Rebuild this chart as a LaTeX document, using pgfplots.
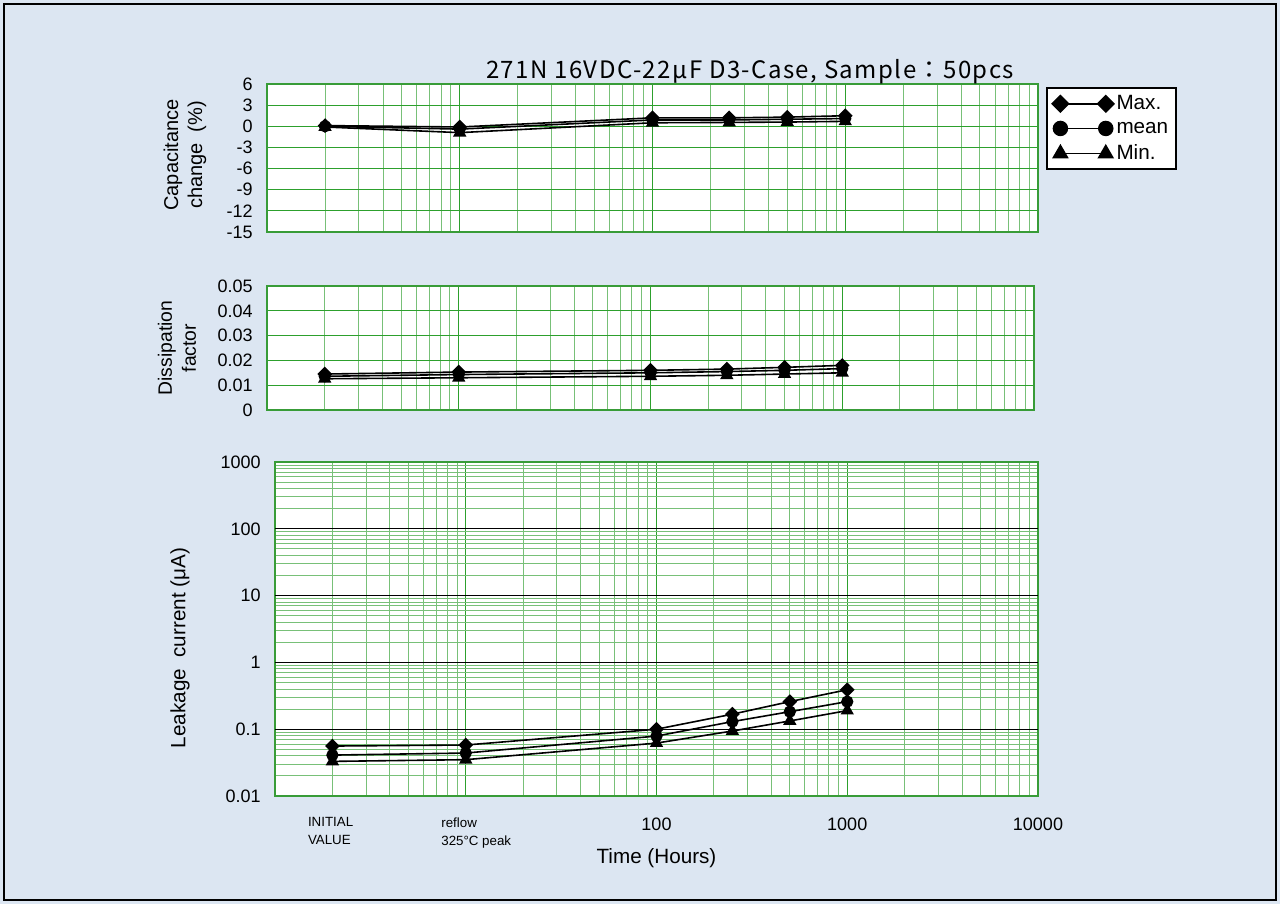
\documentclass[border=0pt]{standalone}
\usepackage{pgfplots}
\pgfplotsset{compat=1.18}
\usepackage{fontspec}
\setmainfont{Liberation Sans}
\newfontfamily\cjk[LetterSpace=6]{Noto Sans CJK JP}

\definecolor{bgblue}{RGB}{220,230,242}
\definecolor{framegreen}{RGB}{56,156,56}
\definecolor{gridmaj}{RGB}{45,160,45}
\definecolor{gridmin}{RGB}{120,192,120}

\pgfplotsset{
  smax/.style={mark=square*, mark size=3.3pt, mark options={rotate=45, fill=black, solid}},
  smean/.style={mark=*, mark size=4pt, mark options={fill=black, solid}},
  smin/.style={mark=triangle*, mark size=4.6pt, mark options={fill=black, solid}},
}

\begin{document}
\begin{tikzpicture}
\fill[bgblue] (0,0) rectangle (960pt,-678pt);
\draw[black, line width=1.5pt] (3pt,-3pt) rectangle (957pt,-675pt);

% capacitance change
\begin{axis}[
  xmode=log, xmin=1, xmax=10000,
  scale only axis, anchor=south west,
  at={(200.25pt,-174pt)}, width=578.25pt, height=111pt,
  axis background/.style={fill=white},
  axis line style={framegreen, line width=2.2pt},
  grid=both,
  major grid style={draw=gridmaj, line width=0.75pt},
  minor grid style={draw=gridmin, line width=0.75pt},
  major tick length=0pt, minor tick length=0pt,
  xtick={1,10,100,1000,10000},
  minor xtick={2,3,4,5,6,7,8,9,20,30,40,50,60,70,80,90,200,300,400,500,600,700,800,900,2000,3000,4000,5000,6000,7000,8000,9000},
  xticklabels={},
  tick label style={font=\fontsize{13.5}{16}\selectfont},
  yticklabel style={inner sep=0pt, xshift=-10.5pt},
  ymin=-15, ymax=6,
  ytick={-15,-12,-9,-6,-3,0,3,6},
  yticklabels={-15,-12,-9,-6,-3,0,3,6},
  ylabel={Capacitance\\change\ \ (\%)},
  ylabel style={at={(axis description cs:-0.1064,0.52)}, anchor=center,
    align=center, font=\fontsize{15}{18}\selectfont},
  title={\cjk 271N 16VDC-22μF D3-Case, Sample：50pcs},
  title style={at={(axis description cs:0.6265,1.027)}, anchor=center,
    font=\fontsize{18}{20}\selectfont},
  legend style={at={(1,1)}, anchor=north west, xshift=6pt, yshift=-2.5pt,
    draw=black, line width=1.5pt, fill=white,
    font=\fontsize{15.5}{17}\selectfont, row sep=3.5pt,
    inner xsep=4pt, inner ysep=3.5pt},
  legend cell align=left,
  legend image code/.code={%
    \draw[#1, every mark/.append style={scale=1.3}] plot coordinates {(0pt,0pt) (34pt,0pt)};},
]
\addplot[black, line width=1.2pt, smax] coordinates {(2,0.1) (10,-0.1) (100,1.2) (250,1.2) (500,1.3) (1000,1.5)};
\addplot[black, line width=1.2pt, smean] coordinates {(2,0) (10,-0.4) (100,0.9) (250,0.9) (500,1.0) (1000,1.1)};
\addplot[black, line width=1.2pt, smin] coordinates {(2,-0.1) (10,-0.9) (100,0.5) (250,0.55) (500,0.6) (1000,0.7)};
\legend{Max.,mean,Min.}
\end{axis}

% dissipation factor
\begin{axis}[
  xmode=log, xmin=1, xmax=10000,
  scale only axis, anchor=south west,
  at={(200.25pt,-307.5pt)}, width=575.25pt, height=93pt,
  axis background/.style={fill=white},
  axis line style={framegreen, line width=2.2pt},
  grid=both,
  major grid style={draw=gridmaj, line width=0.75pt},
  minor grid style={draw=gridmin, line width=0.75pt},
  major tick length=0pt, minor tick length=0pt,
  xtick={1,10,100,1000,10000},
  minor xtick={2,3,4,5,6,7,8,9,20,30,40,50,60,70,80,90,200,300,400,500,600,700,800,900,2000,3000,4000,5000,6000,7000,8000,9000},
  xticklabels={},
  tick label style={font=\fontsize{13.5}{16}\selectfont},
  yticklabel style={inner sep=0pt, xshift=-10.5pt},
  ymin=0, ymax=0.05,
  scaled y ticks=false,
  ytick={0,0.01,0.02,0.03,0.04,0.05},
  yticklabels={0,0.01,0.02,0.03,0.04,0.05},
  ylabel={Dissipation\\factor},
  ylabel style={at={(axis description cs:-0.1173,0.5)}, anchor=center,
    align=center, font=\fontsize{14.5}{18}\selectfont},
]
\addplot[black, line width=1.2pt, smax] coordinates {(2,0.0145) (10,0.0153) (100,0.0160) (250,0.0165) (500,0.0172) (1000,0.0180)};
\addplot[black, line width=1.2pt, smean] coordinates {(2,0.0136) (10,0.0143) (100,0.0150) (250,0.0155) (500,0.0160) (1000,0.0167)};
\addplot[black, line width=1.2pt, smin] coordinates {(2,0.0126) (10,0.0130) (100,0.0136) (250,0.0140) (500,0.0145) (1000,0.0150)};
\end{axis}

% leakage current
\begin{axis}[
  xmode=log, xmin=1, xmax=10000,
  ymode=log, ymin=0.01, ymax=1000,
  scale only axis, anchor=south west,
  at={(206.25pt,-597pt)}, width=572.25pt, height=250.5pt,
  axis background/.style={fill=white},
  axis line style={framegreen, line width=2.2pt},
  grid=both,
  major grid style={draw=gridmaj, line width=0.75pt},
  minor grid style={draw=gridmin, line width=0.75pt},
  major tick length=0pt, minor tick length=0pt,
  xtick={1,10,100,1000,10000},
  minor xtick={2,3,4,5,6,7,8,9,20,30,40,50,60,70,80,90,200,300,400,500,600,700,800,900,2000,3000,4000,5000,6000,7000,8000,9000},
  xticklabels={{},{},100,1000,10000},
  tick label style={font=\fontsize{13.5}{16}\selectfont},
  yticklabel style={inner sep=0pt, xshift=-10.5pt},
  xticklabel style={anchor=north, inner sep=0pt, yshift=-16pt},
  ytick={0.01,0.1,1,10,100,1000},
  yticklabels={0.01,0.1,1,10,100,1000},
  minor ytick={0.02,0.03,0.04,0.05,0.06,0.07,0.08,0.09,0.2,0.3,0.4,0.5,0.6,0.7,0.8,0.9,2,3,4,5,6,7,8,9,20,30,40,50,60,70,80,90,200,300,400,500,600,700,800,900},
  extra y ticks={0.1,1,10,100},
  extra y tick labels={{},{},{},{}},
  extra y tick style={major grid style={draw=black, line width=0.8pt}},
  extra x ticks={2,10},
  extra x tick labels={{INITIAL\\VALUE},{reflow\\325°C peak}},
  extra x tick style={grid=none, xticklabel style={anchor=north west, align=left,
    xshift=-18.5pt, inner sep=0pt, font=\fontsize{10}{13.5}\selectfont}},
  ylabel={Leakage\ \ current (μA)},
  ylabel style={at={(axis description cs:-0.1245,0.443)}, anchor=center,
    font=\fontsize{15.5}{18}\selectfont},
  xlabel={Time (Hours)},
  xlabel style={at={(axis description cs:0.5,-0.1856)}, anchor=center,
    font=\fontsize{15.5}{18}\selectfont},
]
\addplot[black, line width=1.2pt, smax] coordinates {(2,0.056) (10,0.058) (100,0.100) (250,0.168) (500,0.259) (1000,0.39)};
\addplot[black, line width=1.2pt, smean] coordinates {(2,0.041) (10,0.044) (100,0.079) (250,0.130) (500,0.183) (1000,0.259)};
\addplot[black, line width=1.2pt, smin] coordinates {(2,0.033) (10,0.035) (100,0.062) (250,0.094) (500,0.133) (1000,0.190)};
\end{axis}

\pgfresetboundingbox
\path[use as bounding box] (0,0) rectangle (960pt,-678pt);
\end{tikzpicture}
\end{document}
